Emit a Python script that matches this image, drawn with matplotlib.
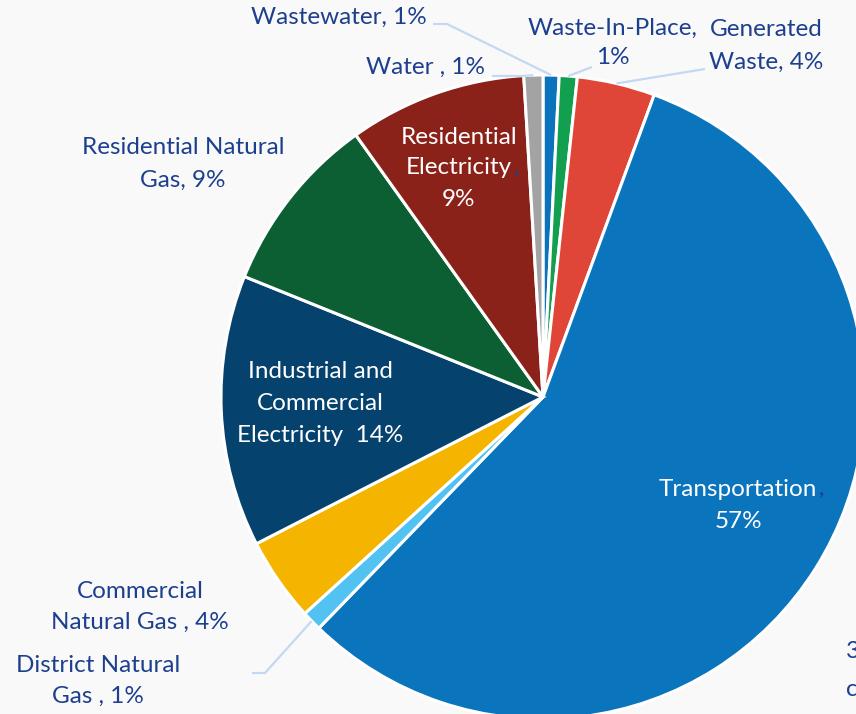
import matplotlib
matplotlib.use("Agg")
import matplotlib.pyplot as plt
import numpy as np

# ---- data (clockwise from 12 o'clock) ----
categories = ["Wastewater", "Waste-In-Place", "Generated Waste", "Transportation",
              "District Natural Gas", "Commercial Natural Gas",
              "Industrial and Commercial Electricity", "Residential Natural Gas",
              "Residential Electricity", "Water"]
values = [0.8, 0.9, 3.9, 56.5, 1.0, 4.2, 13.6, 9.0, 8.9, 0.95]
colors = ["#0b72bc", "#12a050", "#df4638", "#0a74bc", "#52c2f3", "#f4b400",
          "#06426e", "#0c5e33", "#8a2219", "#a3a3a3"]

W, H = 856, 714
BG = "#f9f9f9"
NAVY = "#1c3f8e"
FONT = ["Lato", "DejaVu Sans"]
FS = 17.5

fig = plt.figure(figsize=(W / 100, H / 100), dpi=100, facecolor=BG)
ax = fig.add_axes([0, 0, 1, 1])
ax.set_facecolor(BG)

cx, cy, R = 543, H - 397, 322
wedges, _ = ax.pie(values, colors=colors, startangle=90, counterclock=False,
                   center=(cx, cy), radius=R,
                   wedgeprops=dict(edgecolor="white", linewidth=2.2))
ax.set_xlim(0, W)
ax.set_ylim(0, H)
ax.set_aspect("equal")
ax.axis("off")


def edge_point(i, frac=1.0):
    w = wedges[i]
    a = np.deg2rad((w.theta1 + w.theta2) / 2)
    return cx + R * frac * np.cos(a), cy + R * frac * np.sin(a)


def lines(x, ys, strs, color=NAVY, ha="center"):
    arts = []
    for y, s in zip(ys, strs):
        arts.append(ax.text(x, H - y, s, ha=ha, va="center", color=color,
                            fontsize=FS, family=FONT))
    return arts


def comma_after(art):
    ax.annotate(",", xy=(1, 0.5), xycoords=art, xytext=(1, 0),
                textcoords="offset points", ha="left", va="center",
                color=NAVY, fontsize=FS, family=FONT)


def leader(points, i):
    ex, ey = edge_point(i)
    xs = [p[0] for p in points] + [ex]
    ys = [H - p[1] for p in points] + [ey]
    ax.plot(xs, ys, color="#c3d8f3", lw=1.6, solid_capstyle="butt", zorder=1)


# outside labels
lines(339, [17], ["Wastewater, 1%"])
leader([(433, 24), (447, 24)], 0)
lines(426, [67], ["Water , 1%"])
leader([(492, 76), (522, 76)], 9)
lines(613, [28, 58], ["Waste-In-Place,", "1%"])
leader([(592, 67)], 1)
lines(766, [30, 62], ["Generated", "Waste, 4%"])
leader([(705, 69)], 2)
lines(183, [148, 180], ["Residential Natural", "Gas, 9%"])
lines(140, [592, 622], ["Commercial", "Natural Gas , 4%"])
lines(98, [665, 696], ["District Natural", "Gas , 1%"])
leader([(252, 673), (265, 673)], 4)

# inside labels (white)
a = lines(459, [137, 168, 199], ["Residential", "Electricity", "9%"], color="white")
comma_after(a[1])
lines(320, [371, 403, 435], ["Industrial and", "Commercial", "Electricity  14%"],
      color="white")
t = lines(738, [489, 521], ["Transportation", "57%"], color="white")
comma_after(t[0])

# clipped text on the right edge
ax.text(846, H - 652, "3", color=NAVY, fontsize=FS, family=FONT, ha="left", va="center")
ax.text(846, H - 690, "c", color=NAVY, fontsize=FS, family=FONT, ha="left", va="center")

fig.savefig("out.png", dpi=100, facecolor=BG)
